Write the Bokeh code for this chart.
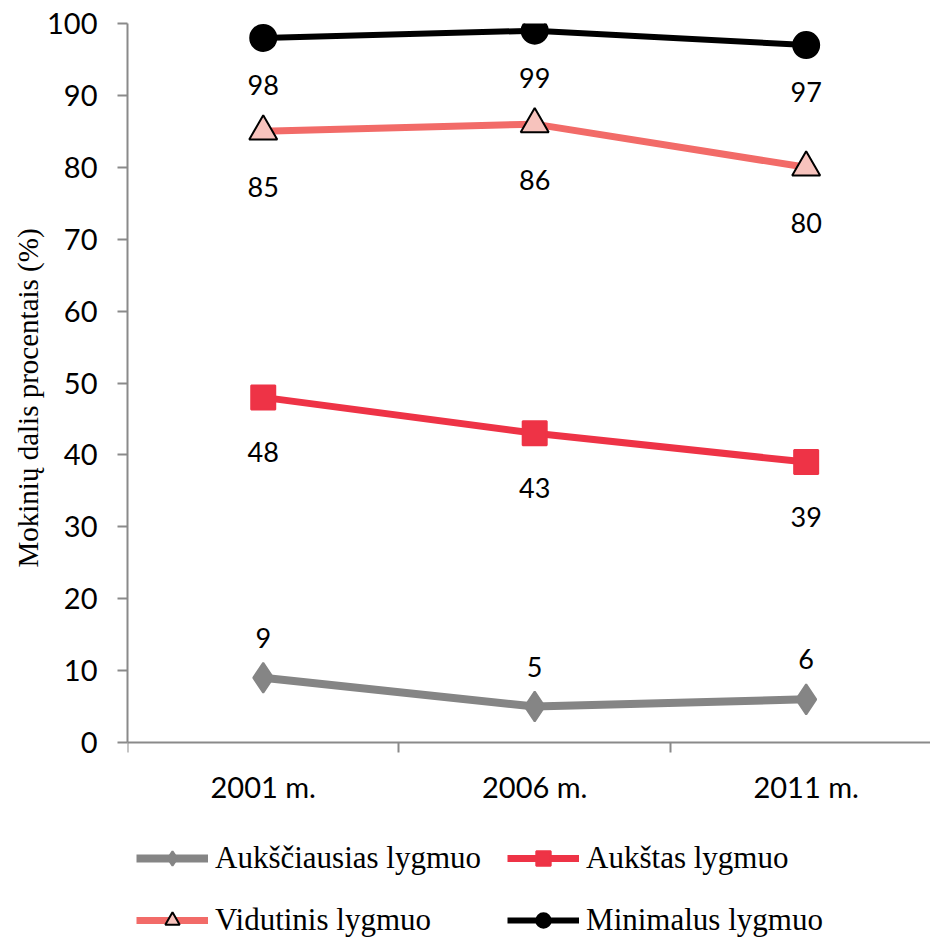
from bokeh.plotting import figure
from bokeh.models import (ColumnDataSource, LabelSet, Legend, LegendItem, FixedTicker, Range1d, Title)
from bokeh.core.properties import value
from bokeh.embed import file_html
from bokeh.resources import INLINE

years = ["2001 m.", "2006 m.", "2011 m."]
auksciausias = [9, 5, 6]
aukstas = [48, 43, 39]
vidutinis = [85, 86, 80]
minimalus = [98, 99, 97]
series_names = ["Aukščiausias lygmuo", "Aukštas lygmuo", "Vidutinis lygmuo", "Minimalus lygmuo"]
y_title = "Mokinių dalis procentais (%)"
y_ticks = list(range(0, 101, 10))

xs = list(range(len(years)))

H = 938
TOP = 23
PX_PER_UNIT = 7.19
ymin = 100 - (H - TOP) / PX_PER_UNIT

p = figure(width=930, height=H, output_backend="svg", toolbar_location=None,
           x_range=Range1d(-0.5, 2.458), y_range=Range1d(ymin, 100),
           min_border_left=127, min_border_top=TOP, min_border_right=0, min_border_bottom=0)
p.outline_line_color = None
p.xgrid.visible = False
p.ygrid.visible = False
p.background_fill_color = "white"
p.border_fill_color = "white"

TICK_FONT = "Lato"
axis_col = "#8a8a8a"

# y axis
p.yaxis.ticker = FixedTicker(ticks=y_ticks)
p.yaxis.bounds = (0, 100)
p.yaxis.axis_line_color = axis_col
p.yaxis.axis_line_width = 2
p.yaxis.major_tick_line_color = axis_col
p.yaxis.major_tick_line_width = 2
p.yaxis.major_tick_out = 10
p.yaxis.major_tick_in = 0
p.yaxis.minor_tick_line_color = None
p.yaxis.major_label_text_font = TICK_FONT
p.yaxis.major_label_text_font_size = "29px"
p.yaxis.major_label_text_color = "black"
p.yaxis.major_label_standoff = 20

# y axis title, centred on the 0-100 part of the axis
p.add_layout(Title(text=y_title, align="left", offset=H - 567,
                   text_font="Liberation Serif", text_font_size="29px",
                   text_font_style="normal", text_color="black", standoff=2), "left")

# x axis (drawn at y = 0)
p.xaxis.fixed_location = 0
p.xaxis.ticker = FixedTicker(ticks=xs, minor_ticks=[-0.5, 0.5, 1.5, 2.5])
p.xaxis.major_label_overrides = {i: y for i, y in enumerate(years)}
p.xaxis.axis_line_color = axis_col
p.xaxis.axis_line_width = 2
p.xaxis.major_tick_line_color = None
p.xaxis.major_tick_out = 10
p.xaxis.major_tick_in = 0
p.xaxis.minor_tick_line_color = axis_col
p.xaxis.minor_tick_line_width = 2
p.xaxis.minor_tick_out = 10
p.xaxis.minor_tick_in = 0
p.xaxis.major_label_text_font = TICK_FONT
p.xaxis.major_label_text_font_size = "29px"
p.xaxis.major_label_text_color = "black"
p.xaxis.major_label_standoff = 16

items = []

def add_series(vals, name, line_col, lw, marker, msize, fill, mline, yoff):
    src = ColumnDataSource(dict(x=xs, y=vals, t=[str(v) for v in vals]))
    l = p.line("x", "y", source=src, line_color=line_col, line_width=lw)
    s = p.scatter("x", "y", source=src, marker=marker, size=msize, fill_color=fill,
                  line_color=mline, line_width=2)
    labels = LabelSet(x="x", y="y", text="t", source=src, y_offset=yoff,
                      text_align="center", text_baseline="middle",
                      text_font=value(TICK_FONT), text_font_size="27px", text_color="black")
    p.add_layout(labels)
    items.append(LegendItem(label=name, renderers=[l, s]))

add_series(auksciausias, series_names[0], "#858585", 8, "diamond", 30, "#858585", "#858585", 40)
add_series(aukstas, series_names[1], "#ee3346", 7, "square", 24, "#ee3346", "#ee3346", -55)
add_series(vidutinis, series_names[2], "#f26b68", 7, "triangle", 28, "#f7c3bd", "black", -56)
add_series(minimalus, series_names[3], "black", 6, "circle", 26, "black", "black", -47)

legend = Legend(items=items, ncols=2, orientation="horizontal",
                label_text_font="Liberation Serif", label_text_font_size="31px",
                label_text_color="black",
                glyph_width=72, glyph_height=36, label_standoff=7,
                spacing=26, padding=0, margin=0, border_line_color=None,
                background_fill_alpha=0, location=(9, 0))
p.add_layout(legend, "center")

open("out.html", "w").write(file_html(p, INLINE))
